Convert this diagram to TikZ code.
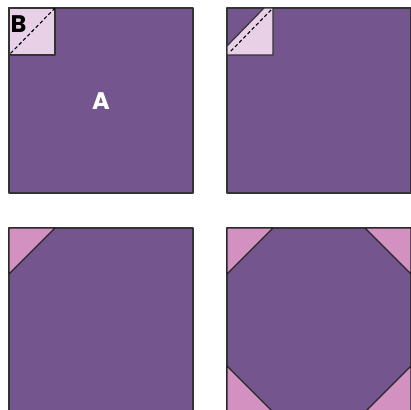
\documentclass[tikz,border=0pt]{standalone}
\usepackage{fontspec}
\setmainfont{Poppins}
\definecolor{plum}{HTML}{74558E}
\definecolor{lilac}{HTML}{E8D0E6}
\definecolor{orchid}{HTML}{D391C2}

\begin{document}
\begin{tikzpicture}[x=1pt,y=-1pt,line join=round,
  block/.style={fill=plum,draw=black!80,line width=1.2pt},
  flap/.style={fill=lilac,draw=black!80,line width=1.2pt},
  tri/.style={fill=orchid,draw=black!85,line width=1.2pt},
  seam/.style={black,line width=1.1pt,dash pattern=on 3.5pt off 2.5pt},
  lbl/.style={font=\bfseries\fontsize{24}{24}\selectfont,inner sep=0pt}]
\useasboundingbox (0,0) rectangle (411,409);
% top left: square B on A
\draw[block] (9,8) rectangle (193,193);
\draw[flap] (9,8) rectangle (55,55);
\draw[seam] (55,8)--(9,55);
\node[lbl,white] (a) at (101,101.5) {A};
\node[lbl,black] (b) at (18.5,24) {B};
% top right: corner sewn and trimmed
\draw[block] (227,8) rectangle (411,193);
\draw[flap] (227,46)--(264,8)--(273,8)--(273,55)--(227,55)--cycle;
\draw[seam] (271,10)--(229,53);
% bottom left: pressed open
\draw[block] (9,228) rectangle (193,412);
\draw[tri] (9,228)--(55,228)--(9,274)--cycle;
% bottom right: all four corners
\draw[block] (227,228) rectangle (411,412);
\foreach \x/\y/\dx/\dy in {227/228/1/1,411/228/-1/1,227/412/1/-1,411/412/-1/-1}
  \draw[tri] (\x,\y)--++(46*\dx,0)--++(-46*\dx,46*\dy)--cycle;
\end{tikzpicture}
\end{document}
